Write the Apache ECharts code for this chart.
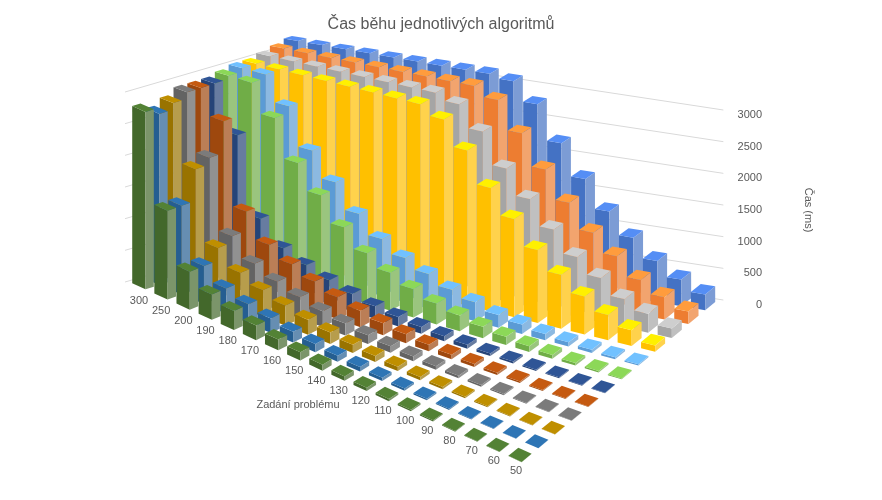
<!DOCTYPE html>
<html><head><meta charset="utf-8">
<script src="https://cdn.jsdelivr.net/npm/echarts@6/dist/echarts.min.js"></script>
<style>html,body{margin:0;padding:0;background:#fff}#c{width:882px;height:500px}</style>
</head><body><div id="c"></div>
<script>
const categories=['50','60','70','80','90','100','110','120','130','140','150','160','170','180','190','200','250','300'];
const valueTicks=[0,500,1000,1500,2000,2500,3000];
const colors=['#4472C4','#ED7D31','#A5A5A5','#FFC000','#5B9BD5','#70AD47','#264478','#9E480E','#636363','#997300','#255E91','#43682B'];
const s1=[250,420,650,950,1300,1750,2250,2800,3100,3150,3150,3150,3150,3150,3150,3150,3150,3150];
const s2=[200,350,550,850,1150,1550,2000,2500,2950,3100,3100,3100,3100,3100,3100,3100,3100,3100];
const s3=[150,300,450,700,950,1300,1700,2100,2600,2950,3050,3050,3050,3050,3050,3050,3050,3050];
const s4=[100,250,400,600,850,1150,1550,1950,2450,2850,3000,3000,3000,3000,3000,3000,3000,3000];
const s5=[20,30,50,70,100,150,200,300,400,550,700,900,1200,1600,2000,2600,3000,3000];
const s6=[15,25,40,60,90,130,180,250,330,450,600,800,1100,1500,1900,2500,2950,2950];
const s7=[5,10,15,20,30,40,60,80,110,150,200,280,380,500,650,1000,2200,2900];
const s8=[5,10,15,25,35,50,70,100,140,190,260,350,470,620,800,1200,2500,2900];
const s9=[5,8,12,20,28,40,55,75,100,140,190,250,340,450,600,900,2000,2900];
const s10=[5,8,12,18,25,35,50,70,95,130,180,240,320,420,550,800,1900,2800];
const s11=[3,5,8,12,18,25,35,50,70,95,130,170,230,300,400,600,1400,2700];
const s12=[3,5,8,12,18,25,35,50,70,95,130,170,230,300,400,600,1400,2800];
const seriesValues=[s1,s2,s3,s4,s5,s6,s7,s8,s9,s10,s11,s12]; // back to front

const nS=seriesValues.length, nC=categories.length;
// base corners (k: 0 = 300 on left, 16/17 end = 50 on right; j: 0 front, nS-1 back)
const FL=[143,285], FR=[520,455], BL=[295,238], BR=[703,305];
function base(k,j){
  const a=k/(nC-1), b=j/(nS-1);
  const f=[FL[0]+(FR[0]-FL[0])*a, FL[1]+(FR[1]-FL[1])*a];
  const bk=[BL[0]+(BR[0]-BL[0])*a, BL[1]+(BR[1]-BL[1])*a];
  return [f[0]+(bk[0]-f[0])*b, f[1]+(bk[1]-f[1])*b];
}
function pt(api,k,j,v){
  const c0=api.coord([0,0]), cv=api.coord([0,v]);
  const p=base(k,j);
  return [p[0], p[1]+(cv[1]-c0[1])];
}
const barData=[];
for(let j=nS-1;j>=0;j--){
  const s=nS-1-j;
  for(let k=0;k<nC;k++){ const i=nC-1-k; barData.push([k,j,seriesValues[s][i],s]); }
}
const lift=(c,a)=>echarts.color.lift(c,a);
function renderBar(params,api){
  const k=api.value(0), j=api.value(1), v=api.value(2), s=api.value(3);
  const w=0.3, d=0.3, c=colors[s];
  const P=(dk,dj,h)=>pt(api,k+dk,j+dj,h);
  const front=[P(-w,-d,0),P(w,-d,0),P(w,-d,v),P(-w,-d,v)];
  const right=[P(w,-d,0),P(w,d,0),P(w,d,v),P(w,-d,v)];
  const top=[P(-w,-d,v),P(w,-d,v),P(w,d,v),P(-w,d,v)];
  return {type:'group',children:[
    {type:'polygon',shape:{points:front},style:{fill:c}},
    {type:'polygon',shape:{points:right},style:{fill:lift(c,0.3)}},
    {type:'polygon',shape:{points:top},style:{fill:lift(c,-0.25)}}
  ]};
}
function renderGrid(params,api){
  const v=api.value(0);
  const a=pt(api,-0.5,-0.5,v), b=pt(api,-0.5,nS-0.5,v), c=pt(api,nC-0.5,nS-0.5,v);
  return {type:'polyline',shape:{points:[a,b,c]},style:{stroke:'#d9d9d9',lineWidth:1,fill:null}};
}
function renderLabel(params,api){
  const k=api.value(0);
  const p=pt(api,k,0,0);
  return {type:'text',x:p[0]-4,y:p[1]+16,style:{text:categories[nC-1-k],fill:'#595959',font:'11px "Liberation Sans", sans-serif',align:'center',verticalAlign:'middle'}};
}
const chart=echarts.init(document.getElementById('c'));
chart.setOption({
  animation:false,
  title:{text:'Čas běhu jednotlivých algoritmů',left:'center',top:12,textStyle:{fontSize:16,fontWeight:'normal',color:'#595959',fontFamily:'"Liberation Sans", sans-serif'}},
  grid:[{left:143,width:377,top:95,height:190},{left:770,width:50,top:115,height:190}],
  xAxis:[{type:'value',min:0,max:17,show:false,gridIndex:0},{type:'value',show:false,gridIndex:1}],
  yAxis:[{type:'value',min:0,max:3000,show:false,gridIndex:0},
    {type:'value',min:0,max:3000,interval:500,gridIndex:1,position:'left',axisLine:{show:false},axisTick:{show:false},splitLine:{show:false},
     axisLabel:{color:'#595959',fontSize:11,margin:8,formatter:v=>String(v)}}],
  graphic:[
    {type:'text',x:808,y:210,rotation:-Math.PI/2,style:{text:'Čas (ms)',fill:'#595959',font:'11px "Liberation Sans", sans-serif',align:'center',verticalAlign:'middle'}},
    {type:'text',x:298,y:405,style:{text:'Zadání problému',fill:'#595959',font:'11px "Liberation Sans", sans-serif',align:'center',verticalAlign:'middle'}}
  ],
  series:[
    {type:'custom',xAxisIndex:0,yAxisIndex:0,clip:false,z:1,data:valueTicks.map(v=>[v]),renderItem:renderGrid,silent:true},
    {type:'custom',xAxisIndex:0,yAxisIndex:0,clip:false,z:2,data:categories.map((c,i)=>[i]),renderItem:renderLabel,silent:true},
    {type:'custom',xAxisIndex:0,yAxisIndex:0,clip:false,z:3,data:barData,renderItem:renderBar}
  ]
});
</script></body></html>
